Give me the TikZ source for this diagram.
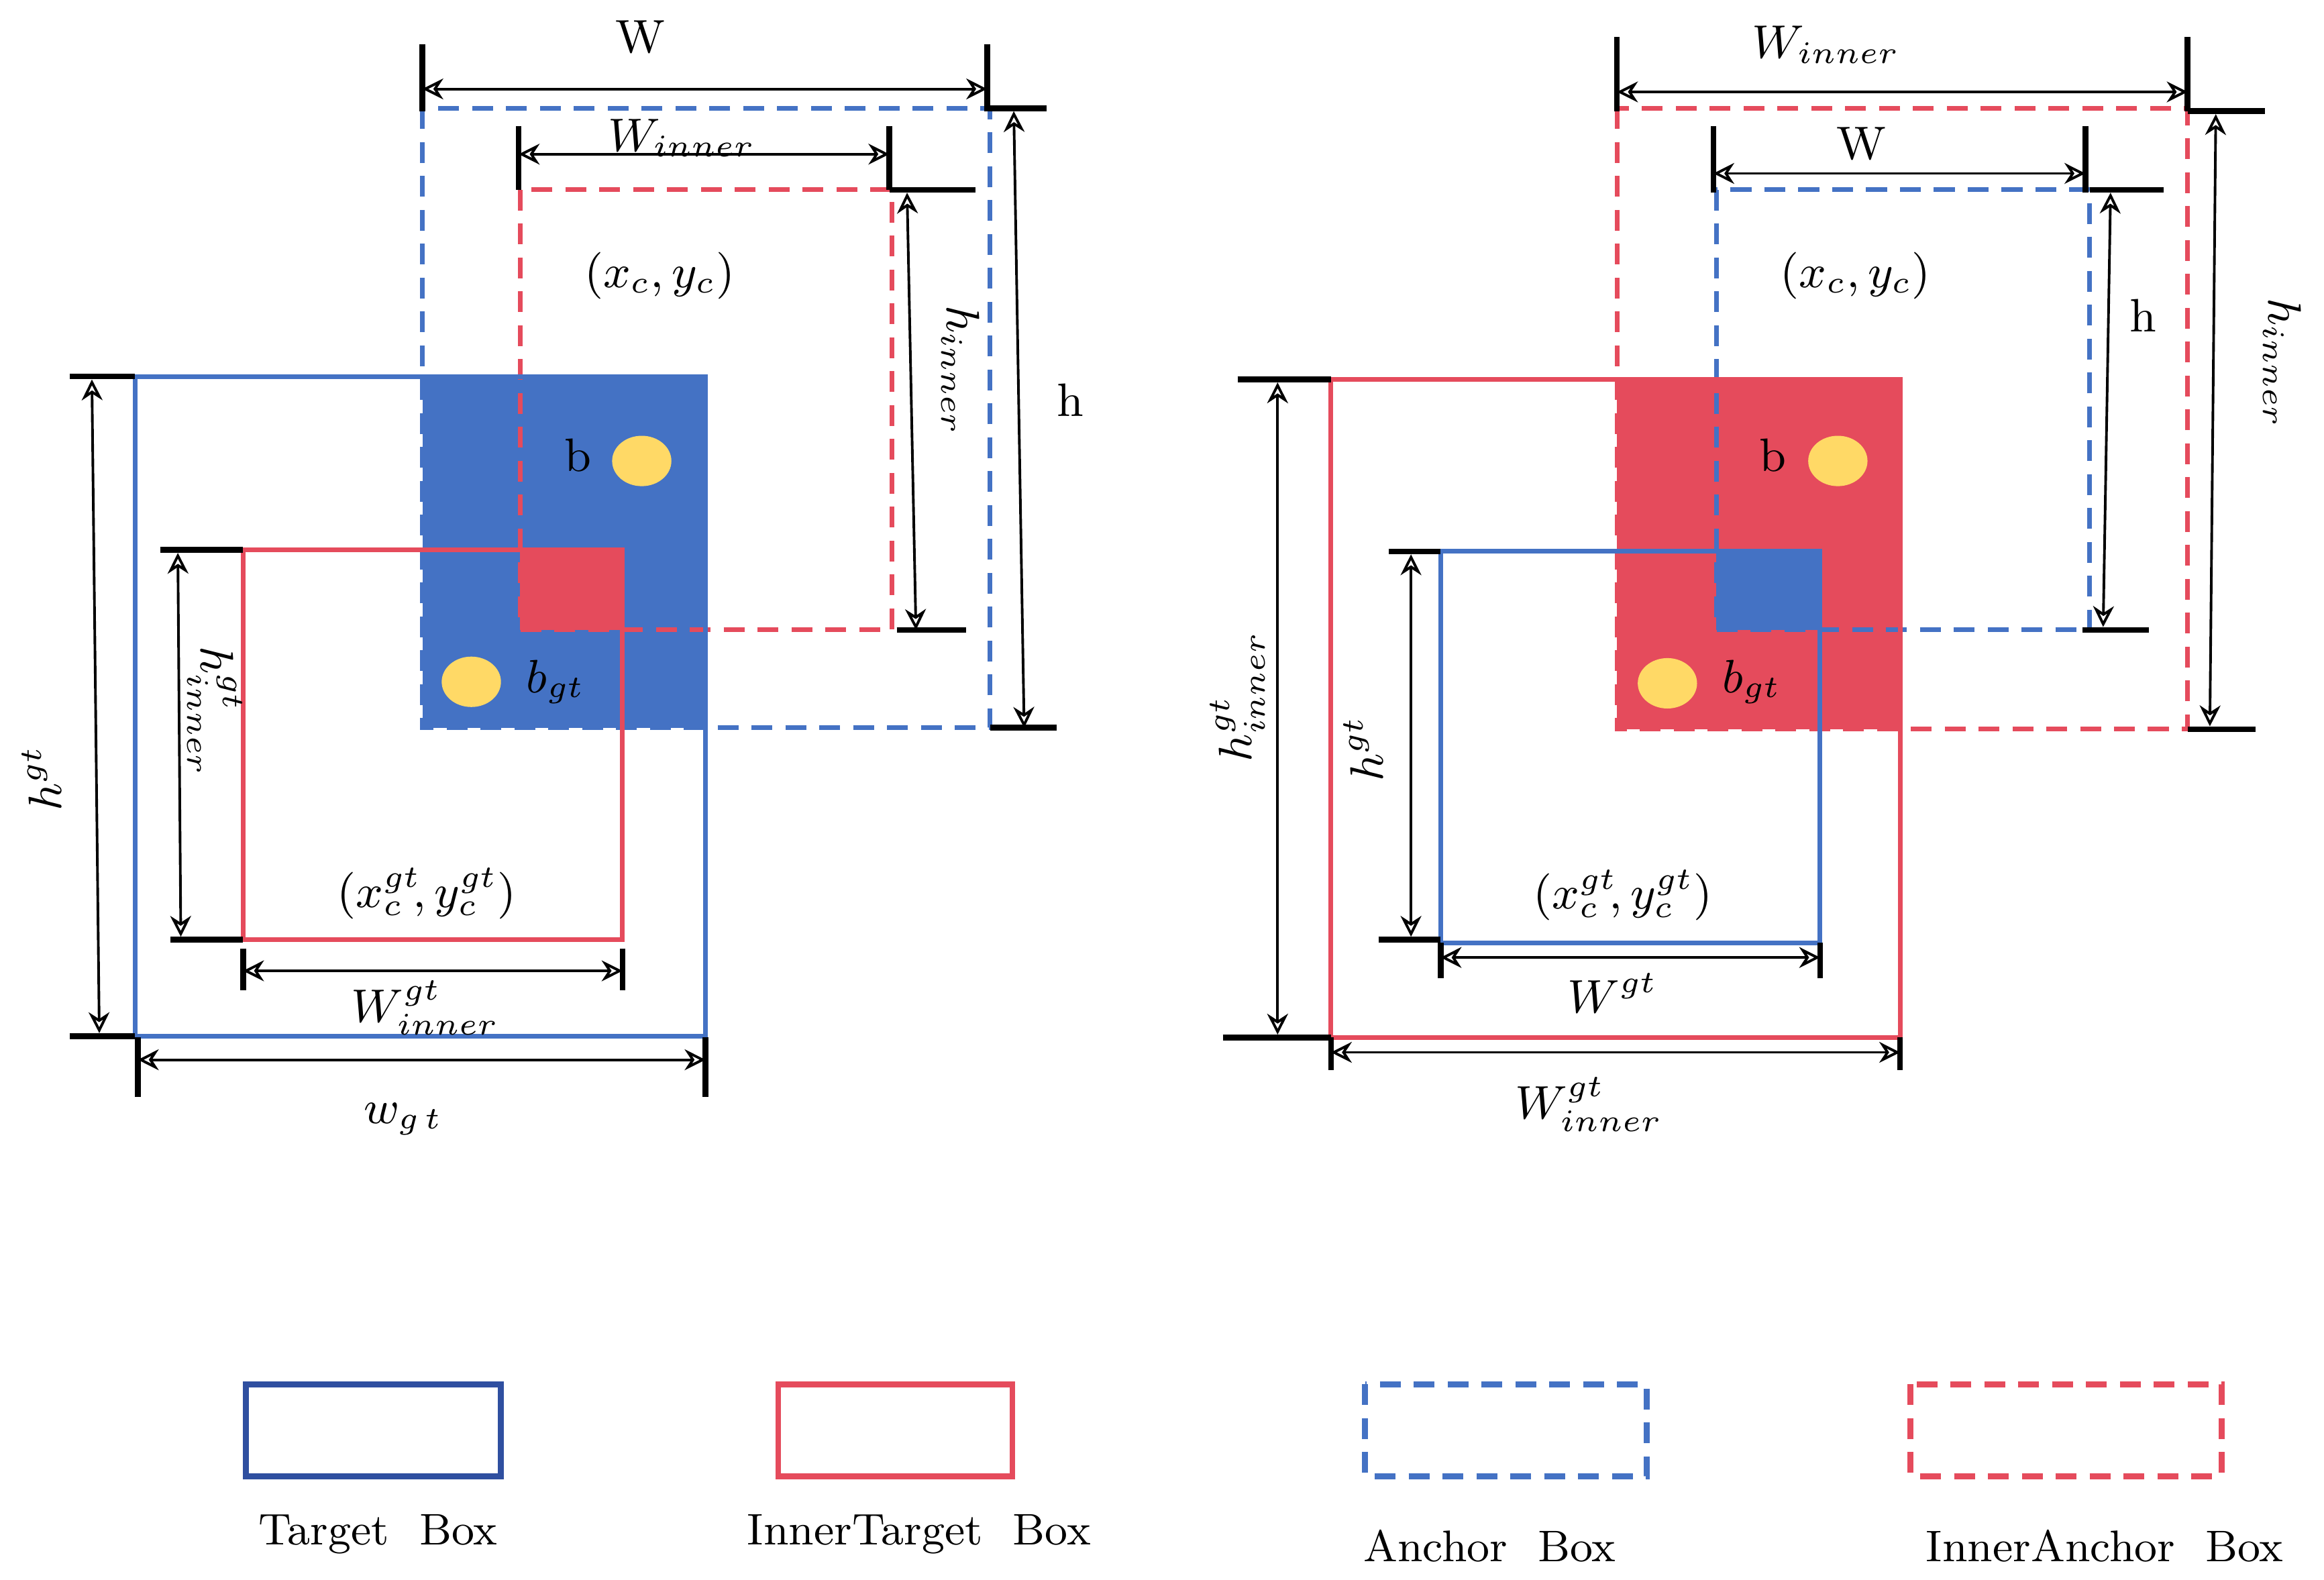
\documentclass[tikz,border=0pt]{standalone}
\usetikzlibrary{arrows.meta}
\begin{document}
\definecolor{bl}{HTML}{4472C4}
\definecolor{rd}{HTML}{E54B5C}
\definecolor{yl}{HTML}{FFD966}
\definecolor{dbl}{HTML}{2F4FA0}
\begin{tikzpicture}[x=0.01cm,y=-0.01cm,
  solidb/.style={draw=bl,line width=0.9pt},
  solidr/.style={draw=rd,line width=0.9pt},
  dashb/.style={draw=bl,line width=0.9pt,dash pattern=on 4pt off 2.5pt},
  dashr/.style={draw=rd,line width=0.9pt,dash pattern=on 4pt off 2.5pt},
  tick/.style={draw=black,line width=1.1pt},
  dim/.style={draw=black,line width=0.5pt,{Stealth[open,length=4pt,width=4pt]}-{Stealth[open,length=4pt,width=4pt]}},
  lab/.style={font=\fontsize{9}{10}\selectfont,inner sep=0pt},
  leg/.style={font=\fontsize{8.5}{10}\selectfont,inner sep=0pt},
  dot/.style={fill=yl,draw=none}]
\useasboundingbox (0,0) rectangle (1568,1066);
%% LEFT
\fill[bl] (285,254) rectangle (476,491);
\fill[rd] (351,371) rectangle (420,425);
\draw[dashb] (285,73) rectangle (668,491);
\draw[dashr] (351,128) rectangle (602,425);
\draw[solidb] (91,254) rectangle (476,699);
\draw[solidr] (164,371) rectangle (420,634);
\fill[dot] (433,311) ellipse (20 and 17);
\fill[dot] (318,460) ellipse (20 and 17);
\node[lab] (b1) at (390,307) {b};
\node[lab] (bg1) at (375,460) {$b_{gt}$};
\node[lab] (c1) at (445,186) {$(x_c,y_c)$};
\node[lab] (cg1) at (288,603) {$(x_c^{gt}\!,y_c^{gt})$};
% W
\draw[tick] (285,30)--(285,75); \draw[tick] (666,30)--(666,75);
\draw[dim] (285,60)--(666,60); \node[lab] at (432,25) {W};
% W inner
\draw[tick] (350,85)--(350,128); \draw[tick] (600,85)--(600,128);
\draw[dim] (350,104)--(600,104); \node[lab] at (460,93) {$W_{inner}$};
% h inner
\draw[tick] (600,128)--(658,128); \draw[tick] (605,425)--(652,425);
\draw[dim] (612,130)--(618,425); \node[lab,rotate=-90] at (648,250) {$h_{inner}$};
% h
\draw[tick] (668,73)--(706,73); \draw[tick] (668,491)--(713,491);
\draw[dim] (684,75)--(691,491); \node[lab] at (722,270) {h};
% h gt
\draw[tick] (47,254)--(91,254); \draw[tick] (47,699)--(91,699);
\draw[dim] (62,256)--(67,697); \node[lab,rotate=90] at (28,525) {$h^{gt}$};
% h inner gt
\draw[tick] (108,371)--(164,371); \draw[tick] (115,634)--(164,634);
\draw[dim] (120,373)--(122,632); \node[lab,rotate=-90] at (145,480) {$h_{inner}^{gt}$};
% W inner gt
\draw[tick] (164,640)--(164,668); \draw[tick] (420,640)--(420,668);
\draw[dim] (164,655)--(420,655); \node[lab] at (287,680) {$W_{inner}^{gt}$};
% w gt
\draw[tick] (93,700)--(93,740); \draw[tick] (476,700)--(476,740);
\draw[dim] (93,715)--(476,715); \node[lab] at (272,755) {$w_{g\,t}$};
%% RIGHT
\fill[rd] (1091,256) rectangle (1282,492);
\fill[bl] (1158,372) rectangle (1228,425);
\draw[dashr] (1091,73) rectangle (1476,492);
\draw[dashb] (1158,128) rectangle (1410,425);
\draw[solidr] (898,256) rectangle (1282,700);
\draw[solidb] (972,372) rectangle (1228,636);
\fill[dot] (1240,311) ellipse (20 and 17);
\fill[dot] (1125,461) ellipse (20 and 17);
\node[lab] (b2) at (1196,307) {b};
\node[lab] (bg2) at (1182,460) {$b_{gt}$};
\node[lab] (c2) at (1252,186) {$(x_c,y_c)$};
\node[lab] (cg2) at (1095,604) {$(x_c^{gt}\!,y_c^{gt})$};
% W inner
\draw[tick] (1091,25)--(1091,75); \draw[tick] (1476,25)--(1476,75);
\draw[dim] (1091,62)--(1476,62); \node[lab] at (1232,30) {$W_{inner}$};
% W
\draw[tick] (1156,85)--(1156,130); \draw[tick] (1407,85)--(1407,130);
\draw[dim] (1156,117)--(1407,117); \node[lab] at (1256,97) {W};
% h
\draw[tick] (1410,128)--(1460,128); \draw[tick] (1405,425)--(1450,425);
\draw[dim] (1424,130)--(1419,423); \node[lab] at (1446,213) {h};
% h inner
\draw[tick] (1476,75)--(1528,75); \draw[tick] (1476,492)--(1522,492);
\draw[dim] (1495,77)--(1491,490); \node[lab,rotate=-90] at (1540,245) {$h_{inner}$};
% h inner gt
\draw[tick] (835,256)--(898,256); \draw[tick] (825,700)--(898,700);
\draw[dim] (862,258)--(862,698); \node[lab,rotate=90] at (835,470) {$h_{inner}^{gt}$};
% h gt
\draw[tick] (937,372)--(972,372); \draw[tick] (930,634)--(972,634);
\draw[dim] (952,374)--(952,632); \node[lab,rotate=90] at (920,505) {$h^{gt}$};
% W gt
\draw[tick] (972,636)--(972,660); \draw[tick] (1228,636)--(1228,660);
\draw[dim] (972,646)--(1228,646); \node[lab] at (1088,670) {$W^{gt}$};
% W inner gt
\draw[tick] (898,700)--(898,722); \draw[tick] (1282,700)--(1282,722);
\draw[dim] (898,710)--(1282,710); \node[lab] at (1072,745) {$W_{inner}^{gt}$};
%% LEGEND
\draw[draw=dbl,line width=1.1pt] (166,934) rectangle (338,996);
\node[leg] at (255,1035) {Target\ \ Box};
\draw[draw=rd,line width=1.1pt] (525,934) rectangle (683,996);
\node[leg] at (620,1035) {InnerTarget\ \ Box};
\draw[dashb,line width=1.1pt] (921,934) rectangle (1111,996);
\node[leg] at (1005,1043) {Anchor\ \ Box};
\draw[dashr,line width=1.1pt] (1289,934) rectangle (1499,996);
\node[leg] at (1420,1043) {InnerAnchor\ \ Box};
\end{tikzpicture}
\end{document}
